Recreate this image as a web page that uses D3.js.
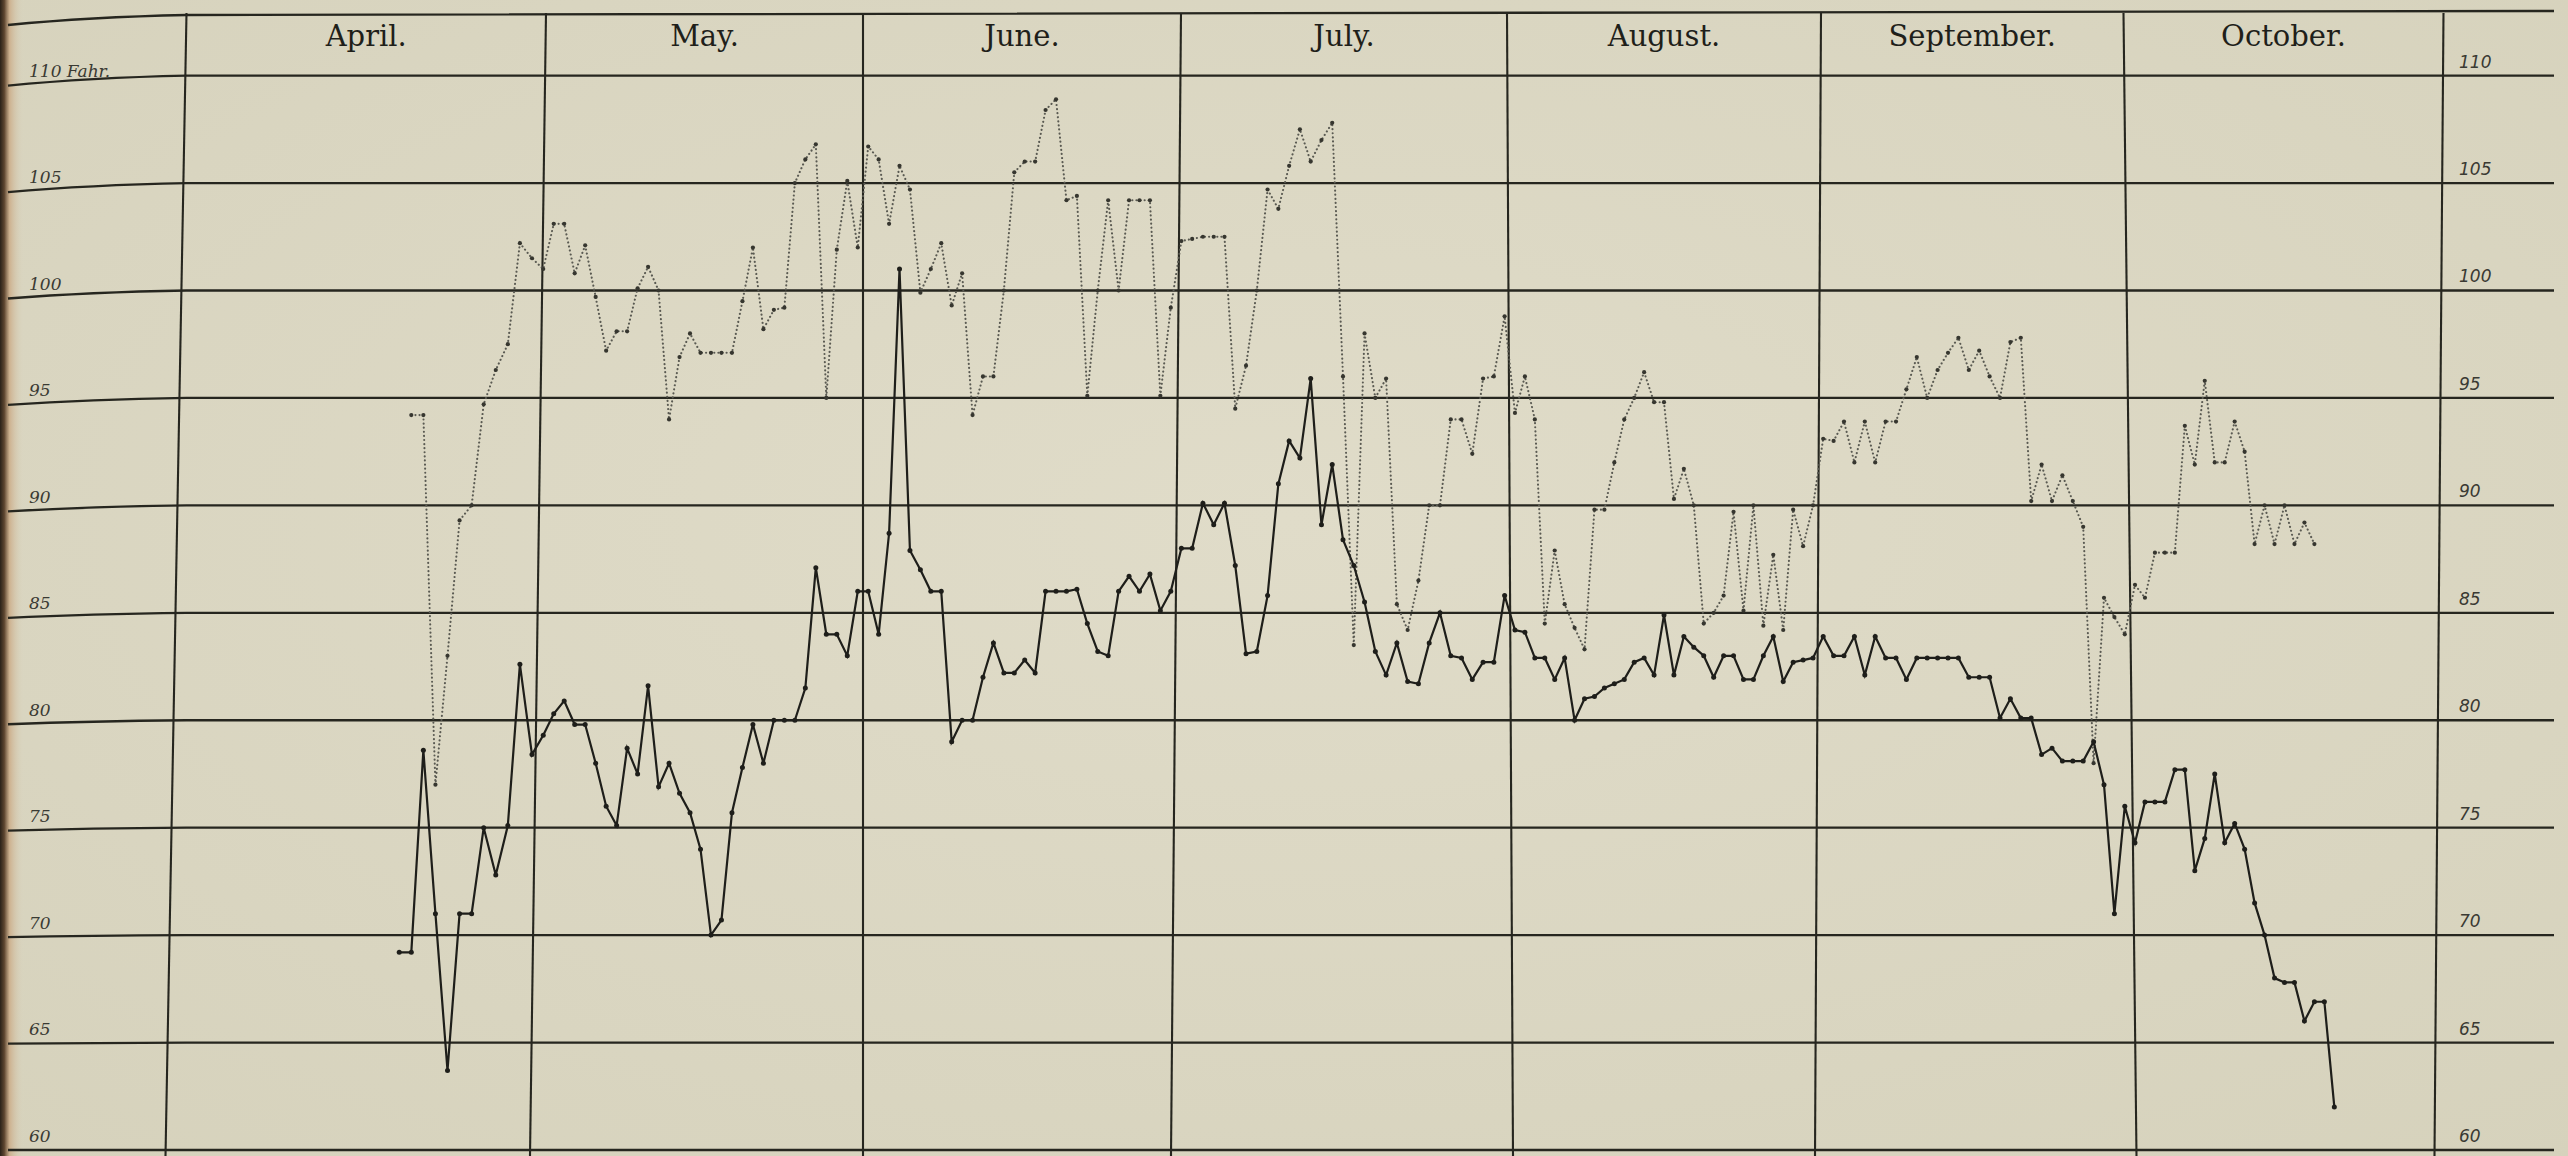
<!DOCTYPE html>
<html>
<head>
<meta charset="utf-8">
<script src="https://cdn.jsdelivr.net/npm/d3@7"></script>
<style>
  html, body { margin: 0; padding: 0; background: #dad6c1; }
  svg { display: block; }
</style>
</head>
<body>
<div id="chart"></div>
<script>
// month headings across the top of the sheet
const months = ['April.', 'May.', 'June.', 'July.', 'August.', 'September.', 'October.'];

// degrees Fahrenheit, one ruled line every 5 degrees
const yTicks = [60, 65, 70, 75, 80, 85, 90, 95, 100, 105, 110];
const leftTickLabels = ['60', '65', '70', '75', '80', '85', '90', '95', '100', '105', '110 Fahr.'];
const rightTickLabels = ['60', '65', '70', '75', '80', '85', '90', '95', '100', '105', '110'];

// the year is not printed on the sheet, any non-leap year will do
const YEAR = 1901;
const minStart = new Date(Date.UTC(YEAR, 3, 19)); // solid line starts 19 April
const maxStart = new Date(Date.UTC(YEAR, 3, 20)); // dotted line starts 20 April

// solid line, one value per day
const minTemps = [
  // April 19-30
  69.2, 69.2, 78.6, 71, 63.7, 71, 71, 75, 72.8, 75.1, 82.6, 78.4,
  // May
  79.3, 80.3, 80.9, 79.8, 79.8, 78, 76, 75.1, 78.7, 77.5, 81.6, 76.9, 78, 76.6, 75.7, 74,
  70, 70.7, 75.7, 77.8, 79.8, 78, 80, 80, 80, 81.5, 87.1, 84, 84, 83, 86,
  // June
  86, 84, 88.7, 101, 87.9, 87, 86, 86, 79, 80, 80, 82, 83.6, 82.2, 82.2, 82.8, 82.2, 86,
  86, 86, 86.1, 84.5, 83.2, 83, 86, 86.7, 86, 86.8, 85.1, 86,
  // July
  88, 88, 90.1, 89.1, 90.1, 87.2, 83.1, 83.2, 85.8, 91, 93, 92.2, 95.9, 89.1, 91.9, 88.4,
  87.2, 85.5, 83.2, 82.1, 83.6, 81.8, 81.7, 83.6, 85, 83, 82.9, 81.9, 82.7, 82.7, 85.8,
  // August
  84.2, 84.1, 82.9, 82.9, 81.9, 82.9, 80, 81, 81.1, 81.5, 81.7, 81.9, 82.7, 82.9, 82.1, 84.9,
  82.1, 83.9, 83.4, 83, 82, 83, 83, 81.9, 81.9, 83, 83.9, 81.8, 82.7, 82.8, 82.9,
  // September
  83.9, 83, 83, 83.9, 82.1, 83.9, 82.9, 82.9, 81.9, 82.9, 82.9, 82.9, 82.9, 82.9, 82,
  82, 82, 80.1, 81, 80.1, 80.1, 78.4, 78.7, 78.1, 78.1, 78.1, 79, 77, 71, 76,
  // October 1-21
  74.3, 76.2, 76.2, 76.2, 77.7, 77.7, 73, 74.5, 77.5, 74.3, 75.2, 74, 71.5, 70, 68, 67.8,
  67.8, 66, 66.9, 66.9, 62,
];

// dotted line, one value per day
const maxTemps = [
  // April 20-30
  94.2, 94.2, 77, 83, 89.3, 90, 94.7, 96.3, 97.5, 102.2, 101.5,
  // May
  101, 103.1, 103.1, 100.8, 102.1, 99.7, 97.2, 98.1, 98.1, 100.1, 101.1, 100, 94, 96.9, 98,
  97.1, 97.1, 97.1, 97.1, 99.5, 102, 98.2, 99.1, 99.2, 105, 106.1, 106.8, 95, 101.9, 105.1, 102,
  // June
  106.7, 106.1, 103.1, 105.8, 104.7, 99.9, 101, 102.2, 99.3, 100.8, 94.2, 96, 96, 100, 105.5,
  106, 106, 108.4, 108.9, 104.2, 104.4, 95.1, 100, 104.2, 100, 104.2, 104.2, 104.2, 95.1, 99.2,
  // July
  102.3, 102.4, 102.5, 102.5, 102.5, 94.5, 96.5, 100, 104.7, 103.8, 105.8, 107.5, 106, 107,
  107.8, 96, 83.5, 98, 95, 95.9, 85.4, 84.2, 86.5, 90, 90, 94, 94, 92.4, 95.9, 96, 98.8,
  // August
  94.3, 96, 94, 84.5, 87.9, 85.4, 84.3, 83.3, 89.8, 89.8, 92, 94, 95, 96.2, 94.8, 94.8,
  90.3, 91.7, 90, 84.5, 85, 85.8, 89.7, 85.1, 90, 84.4, 87.7, 84.2, 89.8, 88.1, 90,
  // September
  93.1, 93, 93.9, 92, 93.9, 92, 93.9, 93.9, 95.4, 96.9, 95, 96.3, 97.1, 97.8, 96.3,
  97.2, 96, 95, 97.6, 97.8, 90.2, 91.9, 90.2, 91.4, 90.2, 89, 78, 85.7, 84.8, 84,
  // October 1-19
  86.3, 85.7, 87.8, 87.8, 87.8, 93.7, 91.9, 95.8, 92, 92, 93.9, 92.5, 88.2, 90, 88.2,
  90, 88.2, 89.2, 88.2,
];

const width = 2568;
const height = 1156;
const ink = '#26261f';

// month boundaries 1 April .. 1 November; the ruling is hand drawn, so
// the month lines lean a little (top x minus bottom x)
const monthEdges = d3.range(3, 11).map(m => new Date(Date.UTC(YEAR, m, 1)));
const edgeX = [176, 538, 863, 1176, 1510, 1818, 2130, 2439];
const edgeLean = [21, 16, 0, 10, -6, 6, -13, 9];

const xScale = d3.scaleUtc()
  .domain(monthEdges)
  .range(edgeX);

const yScale = d3.scaleLinear()
  .domain([60, 110])
  .range([1150, 75.6]);

const sheetTop = 13;
const ruleLeft = 8;
const ruleRight = 2554;

const svg = d3.select('#chart').append('svg')
  .attr('width', width)
  .attr('height', height);

const defs = svg.append('defs');

const paper = defs.append('radialGradient')
  .attr('id', 'paper')
  .attr('cx', '50%').attr('cy', '45%').attr('r', '75%');
paper.append('stop').attr('offset', '0%').attr('stop-color', '#e0dcc9');
paper.append('stop').attr('offset', '100%').attr('stop-color', '#d6d2bc');

const binding = defs.append('linearGradient')
  .attr('id', 'binding')
  .attr('x1', 0).attr('x2', 1).attr('y1', 0).attr('y2', 0);
binding.append('stop').attr('offset', '0%').attr('stop-color', '#2a2118');
binding.append('stop').attr('offset', '18%').attr('stop-color', '#5e4630');
binding.append('stop').attr('offset', '40%').attr('stop-color', '#caa984').attr('stop-opacity', 0.8);
binding.append('stop').attr('offset', '100%').attr('stop-color', '#dad6c1').attr('stop-opacity', 0);

svg.append('rect')
  .attr('width', width)
  .attr('height', height)
  .attr('fill', 'url(#paper)');

svg.append('rect')
  .attr('width', 24)
  .attr('height', height)
  .attr('fill', 'url(#binding)');

// horizontal rules, the page curls down a little at the far left
const droop = v => (v - 60) / 50 * 10;
const rules = svg.append('g').attr('class', 'rules');

rules.selectAll('path.hrule')
  .data(yTicks)
  .enter().append('path')
  .attr('class', 'hrule')
  .attr('d', (v) => {
    const y = yScale(v);
    return `M${ruleLeft},${y + droop(v)} Q${90},${y + droop(v) * 0.2} ${edgeX[0] + edgeLean[0] / 2},${y} L${ruleRight},${y}`;
  })
  .attr('fill', 'none')
  .attr('stroke', ink)
  .attr('stroke-width', 2.3);

// top edge of the heading band
rules.append('path')
  .attr('d', `M${ruleLeft},${sheetTop + 12} Q${90},${sheetTop + 4} ${edgeX[0] + edgeLean[0] / 2},${sheetTop + 2} L${ruleRight},${sheetTop - 2}`)
  .attr('fill', 'none')
  .attr('stroke', ink)
  .attr('stroke-width', 2.3);

// month lines
rules.selectAll('line.vrule')
  .data(monthEdges)
  .enter().append('line')
  .attr('class', 'vrule')
  .attr('x1', (d, i) => xScale(d) + edgeLean[i] / 2)
  .attr('x2', (d, i) => xScale(d) - edgeLean[i] / 2)
  .attr('y1', sheetTop)
  .attr('y2', height)
  .attr('stroke', ink)
  .attr('stroke-width', 2.1);

// month headings, centred between the tops of the month lines
svg.append('g')
  .selectAll('text')
  .data(months)
  .enter().append('text')
  .attr('x', (d, i) => (xScale(monthEdges[i]) + edgeLean[i] / 2 + xScale(monthEdges[i + 1]) + edgeLean[i + 1] / 2) / 2)
  .attr('y', 46)
  .attr('text-anchor', 'middle')
  .style('font-family', '"DejaVu Serif", serif')
  .style('font-size', '29px')
  .style('fill', '#1f1f1a')
  .text(d => d);

// scale figures on both sides
svg.append('g')
  .selectAll('text')
  .data(yTicks)
  .enter().append('text')
  .attr('x', 29)
  .attr('y', v => yScale(v) + droop(v) * 0.9 - 8)
  .style('font-family', '"DejaVu Serif", serif')
  .style('font-style', 'italic')
  .style('font-size', '17px')
  .style('fill', '#3a3a33')
  .text((v, i) => leftTickLabels[i]);

svg.append('g')
  .selectAll('text')
  .data(yTicks)
  .enter().append('text')
  .attr('x', 2459)
  .attr('y', v => yScale(v) - 8)
  .style('font-family', '"DejaVu Sans", sans-serif')
  .style('font-style', 'italic')
  .style('font-size', '17px')
  .style('fill', '#3a3a33')
  .text((v, i) => rightTickLabels[i]);

// daily series, each day plotted at its midday
const toSeries = (start, values) => values.map((value, i) => ({
  date: d3.utcHour.offset(d3.utcDay.offset(start, i), 12),
  value,
}));
const minSeries = toSeries(minStart, minTemps);
const maxSeries = toSeries(maxStart, maxTemps);

const line = d3.line()
  .x(d => xScale(d.date))
  .y(d => yScale(d.value));

// dotted line, a faint chain of small dots with darker day marks
svg.append('path')
  .attr('d', line(maxSeries))
  .attr('fill', 'none')
  .attr('stroke', '#5a5a52')
  .attr('stroke-width', 2.1)
  .attr('stroke-linecap', 'round')
  .attr('stroke-dasharray', '0.1 4');

svg.append('g')
  .selectAll('circle')
  .data(maxSeries)
  .enter().append('circle')
  .attr('cx', d => xScale(d.date))
  .attr('cy', d => yScale(d.value))
  .attr('r', 2.1)
  .attr('fill', '#36362f');

// solid line
svg.append('path')
  .attr('d', line(minSeries))
  .attr('fill', 'none')
  .attr('stroke', '#1e1e1a')
  .attr('stroke-width', 2.2)
  .attr('stroke-linejoin', 'miter');

svg.append('g')
  .selectAll('circle')
  .data(minSeries)
  .enter().append('circle')
  .attr('cx', d => xScale(d.date))
  .attr('cy', d => yScale(d.value))
  .attr('r', 2.5)
  .attr('fill', '#1e1e1a');
</script>
</body>
</html>
